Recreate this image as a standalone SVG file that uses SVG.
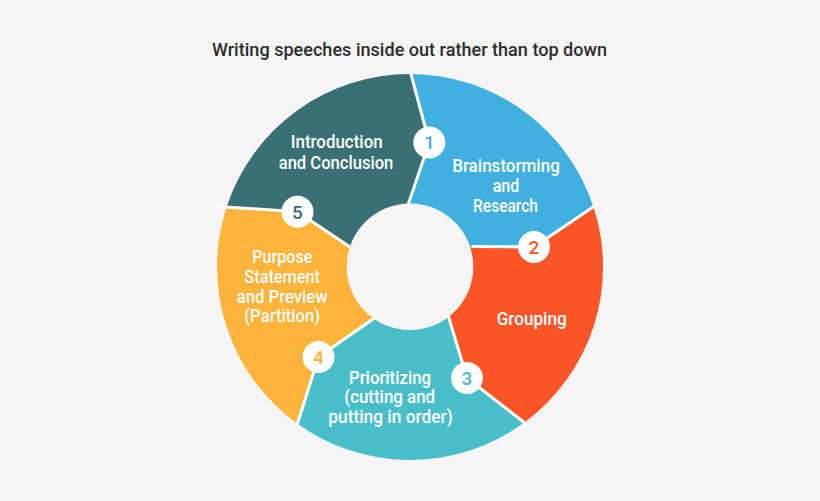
<svg xmlns="http://www.w3.org/2000/svg" width="820" height="501" viewBox="0 0 820 501">
<style>
.lbl{font-family:Roboto,"Liberation Sans",sans-serif;font-size:18.5px;font-weight:500;fill:#ffffff;text-anchor:middle}
.ttl{font-family:Roboto,"Liberation Sans",sans-serif;font-size:17.5px;font-weight:500;fill:#2d2d2d;text-anchor:middle}
.sep{fill:none;stroke:#ffffff;stroke-width:3;stroke-linejoin:round}
.badge circle{fill:#ffffff}
.num{font-family:Roboto,"Liberation Sans",sans-serif;font-size:19px;font-weight:500;text-anchor:middle}
</style>
<rect width="820" height="501" fill="#f5f5f5"/>
<text class="ttl" x="409.5" y="56" textLength="395" lengthAdjust="spacingAndGlyphs">Writing speeches inside out rather than top down</text>

<g id="intro">
<path d="M410,267 L350,247 L297.5,211.7 L226.5,207.3 A193,193 0 0 1 410.7,74 L429.3,142.5 L408,205 Z" fill="#3a6f73"/>
<text class="lbl" x="336.7" y="148" textLength="92" lengthAdjust="spacingAndGlyphs">Introduction</text>
<text class="lbl" x="336" y="169" textLength="114.6" lengthAdjust="spacingAndGlyphs">and Conclusion</text>
</g>
<g id="brainstorming">
<path d="M410,267 L408,205 L429.3,142.5 L410.7,74 A193,193 0 0 1 593.5,207 L534,247 L471.5,246.5 Z" fill="#3fb0e0"/>
<text class="lbl" x="506" y="171.5" textLength="107.7" lengthAdjust="spacingAndGlyphs">Brainstorming</text>
<text class="lbl" x="506" y="191.7" textLength="26.7" lengthAdjust="spacingAndGlyphs">and</text>
<text class="lbl" x="505.5" y="211.7" textLength="65" lengthAdjust="spacingAndGlyphs">Research</text>
</g>
<g id="grouping">
<path d="M410,267 L471.5,246.5 L534,247 L593.5,207 A193,193 0 0 1 524.4,422.4 L467,378 L448,315 Z" fill="#fc5527"/>
<text class="lbl" x="531.7" y="325" textLength="70" lengthAdjust="spacingAndGlyphs">Grouping</text>
</g>
<g id="prioritizing">
<path d="M410,267 L448,315 L467,378 L524.4,422.4 A193,193 0 0 1 297.4,423.7 L318.5,357 L376,317 Z" fill="#48bfc8"/>
<text class="lbl" x="390" y="384" textLength="82" lengthAdjust="spacingAndGlyphs">Prioritizing</text>
<text class="lbl" x="389.7" y="403.3" textLength="90.7" lengthAdjust="spacingAndGlyphs">(cutting and</text>
<text class="lbl" x="390.5" y="422.7" textLength="124.4" lengthAdjust="spacingAndGlyphs">putting in order)</text>
</g>
<g id="purpose">
<path d="M410,267 L376,317 L318.5,357 L297.4,423.7 A193,193 0 0 1 226.5,207.3 L297.5,211.7 L350,247 Z" fill="#fdb43b"/>
<text class="lbl" x="282.3" y="263" textLength="60" lengthAdjust="spacingAndGlyphs">Purpose</text>
<text class="lbl" x="282.2" y="283" textLength="75.7" lengthAdjust="spacingAndGlyphs">Statement</text>
<text class="lbl" x="282.2" y="303" textLength="91" lengthAdjust="spacingAndGlyphs">and Preview</text>
<text class="lbl" x="282.2" y="321.7" textLength="75.7" lengthAdjust="spacingAndGlyphs">(Partition)</text>
</g>

<g id="connectors">
<polyline class="sep" points="410.7,73 429.3,142.5 408,205"/>
<polyline class="sep" points="596,205 534,247 471.5,246.5"/>
<polyline class="sep" points="530,427 467,378 448,315"/>
<polyline class="sep" points="297,425 318.5,357 376,317"/>
<polyline class="sep" points="218,206.5 297.5,211.7 350,247"/>
</g>

<circle id="hole" cx="410" cy="266.7" r="63.3" fill="#f5f5f5"/>

<g id="badge1" class="badge"><circle cx="429.3" cy="142.5" r="16"/><text class="num" x="429.3" y="149.3" fill="#3fb0e0">1</text></g>
<g id="badge2" class="badge"><circle cx="534" cy="247" r="16"/><text class="num" x="534" y="253.8" fill="#fc5527">2</text></g>
<g id="badge3" class="badge"><circle cx="467" cy="378" r="16"/><text class="num" x="467" y="384.8" fill="#48bfc8">3</text></g>
<g id="badge4" class="badge"><circle cx="318.5" cy="357" r="16"/><text class="num" x="318.5" y="363.8" fill="#fdb43b">4</text></g>
<g id="badge5" class="badge"><circle cx="297.5" cy="211.7" r="16"/><text class="num" x="297.5" y="218.5" fill="#3a6f73">5</text></g>
</svg>
